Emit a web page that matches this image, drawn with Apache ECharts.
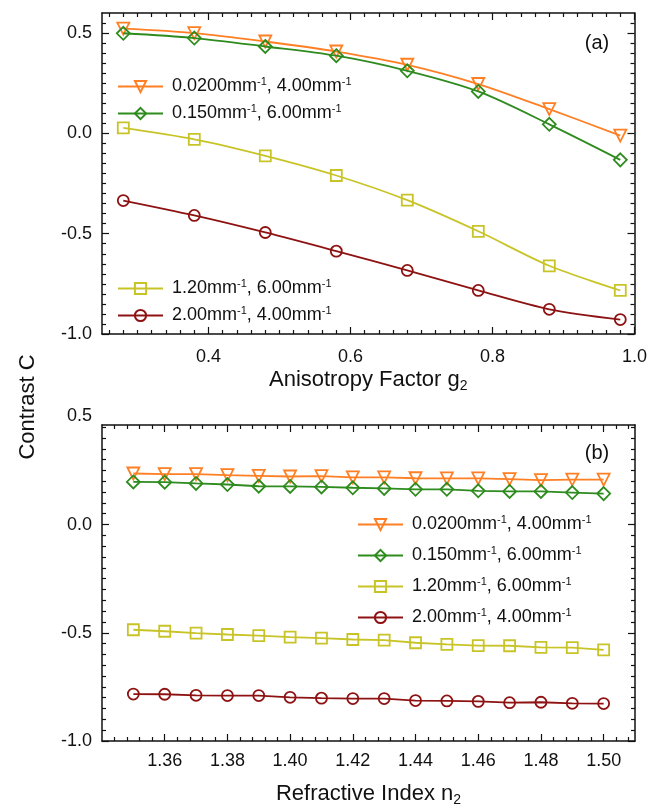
<!DOCTYPE html>
<html>
<head>
<meta charset="utf-8">
<script src="https://cdn.jsdelivr.net/npm/echarts@6/dist/echarts.min.js"></script>
<style>
  html, body { margin: 0; padding: 0; background: #fff; }
  #chart { width: 650px; height: 811px; }
</style>
</head>
<body>
<div id="chart"></div>
<script>
// series names (mu_a, mu_s' pairs)
var names = ['0.0200mm-1, 4.00mm-1', '0.150mm-1, 6.00mm-1', '1.20mm-1, 6.00mm-1', '2.00mm-1, 4.00mm-1']
var colors = ['#FF7F24', '#2E8B1E', '#C8C428', '#8E1212']
var symbols = ['triangle', 'diamond', 'rect', 'circle']
var rotates = [180, 0, 0, 0]

// panel (a): anisotropy factor g2
var gValues = [0.28, 0.38, 0.48, 0.58, 0.68, 0.78, 0.88, 0.98]
var contrastA = [
  [0.522, 0.500, 0.458, 0.408, 0.342, 0.246, 0.121, -0.011],
  [0.499, 0.475, 0.433, 0.387, 0.312, 0.209, 0.045, -0.132],
  [0.027, -0.030, -0.112, -0.210, -0.333, -0.488, -0.660, -0.783],
  [-0.335, -0.409, -0.494, -0.587, -0.683, -0.783, -0.877, -0.928]
]

// panel (b): refractive index n2
var nValues = [1.35, 1.36, 1.37, 1.38, 1.39, 1.40, 1.41, 1.42, 1.43, 1.44, 1.45, 1.46, 1.47, 1.48, 1.49, 1.50]
var contrastB = [
  [0.236, 0.233, 0.233, 0.228, 0.225, 0.222, 0.224, 0.218, 0.218, 0.214, 0.213, 0.213, 0.210, 0.205, 0.208, 0.208],
  [0.197, 0.196, 0.190, 0.185, 0.177, 0.176, 0.174, 0.170, 0.167, 0.163, 0.163, 0.156, 0.153, 0.153, 0.148, 0.143],
  [-0.486, -0.493, -0.502, -0.508, -0.513, -0.520, -0.525, -0.531, -0.534, -0.546, -0.554, -0.559, -0.560, -0.567, -0.569, -0.579],
  [-0.783, -0.784, -0.789, -0.790, -0.790, -0.798, -0.802, -0.804, -0.804, -0.813, -0.815, -0.817, -0.823, -0.821, -0.826, -0.827]
]

// tick labels
var xTicksA = [0.4, 0.6, 0.8, 1.0]
var yTicksA = [-1.0, -0.5, 0.0, 0.5]
var xTicksB = [1.36, 1.38, 1.40, 1.42, 1.44, 1.46, 1.48, 1.50]
var yTicksB = [-1.0, -0.5, 0.0]

var FONT = '"Liberation Sans", Arial, Helvetica, sans-serif'

// minor tick positions between lo and hi every step (skip majors)
function minorTicks(lo, hi, step, majors) {
  var out = []
  var n = Math.round((hi - lo) / step)
  for (var i = 0; i <= n; i++) {
    var v = +(lo + i * step).toFixed(4)
    if (majors.indexOf(v) < 0) out.push(v)
  }
  return out
}

var chart = echarts.init(document.getElementById('chart'))

var grids = [
  { left: 102, top: 13, width: 533, height: 321 },
  { left: 102, top: 425, width: 533, height: 316 }
]

var panels = [
  { xMin: 0.25, xMax: 1.0, yMin: -1.0, yMax: 0.6,
    xMajor: xTicksA, xMinor: minorTicks(0.26, 0.98, 0.02, xTicksA), xDigits: 1,
    yMajor: yTicksA, yMinor: minorTicks(-0.95, 0.55, 0.05, yTicksA),
    xName: 'Anisotropy Factor g{sub|2}', nameGap: 32, labelMargin: 14 },
  { xMin: 1.34, xMax: 1.51, yMin: -1.0, yMax: 0.46,
    xMajor: xTicksB, xMinor: minorTicks(1.344, 1.508, 0.004, xTicksB.concat([1.34])), xDigits: 2,
    yMajor: yTicksB, yMinor: minorTicks(-0.95, 0.45, 0.05, yTicksB),
    xName: 'Refractive Index n{sub|2}', nameGap: 40, labelMargin: 11 }
]

var axisLineStyle = { color: '#111', width: 1.5 }
var xAxes = []
var yAxes = []

panels.forEach(function (p, gi) {
  var sides = [
    { pos: 'bottom', major: true, label: true },
    { pos: 'bottom', major: false },
    { pos: 'top', major: true },
    { pos: 'top', major: false }
  ]
  sides.forEach(function (s) {
    xAxes.push({
      type: 'value', gridIndex: gi, position: s.pos, min: p.xMin, max: p.xMax,
      axisLine: { show: s.major, onZero: false, lineStyle: axisLineStyle },
      axisTick: { show: true, inside: true, length: s.major ? 7 : 4,
        customValues: s.major ? p.xMajor : p.xMinor, lineStyle: { color: '#111', width: 1.2 } },
      axisLabel: s.label ? {
        customValues: p.xMajor, fontSize: 18, fontFamily: FONT, color: '#111', margin: p.labelMargin,
        formatter: function (v) { return v.toFixed(p.xDigits) }
      } : { show: false },
      splitLine: { show: false },
      name: s.label ? p.xName : '',
      nameLocation: 'middle', nameGap: p.nameGap,
      nameTextStyle: { fontSize: 22, fontFamily: FONT, color: '#111', lineHeight: 26,
        rich: { sub: { fontSize: 14, fontFamily: FONT, color: '#111', verticalAlign: 'bottom' } } }
    })
  })
  var ysides = [
    { pos: 'left', major: true, label: true },
    { pos: 'left', major: false },
    { pos: 'right', major: true },
    { pos: 'right', major: false }
  ]
  ysides.forEach(function (s) {
    yAxes.push({
      type: 'value', gridIndex: gi, position: s.pos, min: p.yMin, max: p.yMax,
      axisLine: { show: s.major, onZero: false, lineStyle: axisLineStyle },
      axisTick: { show: true, inside: true, length: s.major ? 7 : 4,
        customValues: s.major ? p.yMajor : p.yMinor, lineStyle: { color: '#111', width: 1.2 } },
      axisLabel: s.label ? {
        customValues: p.yMajor, fontSize: 18, fontFamily: FONT, color: '#111', margin: 10,
        formatter: function (v) { return v.toFixed(1) }
      } : { show: false },
      splitLine: { show: false }
    })
  })
})

var series = []
function addSeries(gi, xs, rows, smooth) {
  rows.forEach(function (vals, k) {
    series.push({
      name: names[k], type: 'line', xAxisIndex: gi * 4, yAxisIndex: gi * 4,
      data: xs.map(function (x, i) { return [x, vals[i]] }),
      smooth: smooth, symbol: symbols[k], symbolRotate: rotates[k],
      symbolSize: k === 1 ? 13 : (k === 0 ? 12 : 11),
      showAllSymbol: true, z: 3 + k,
      lineStyle: { color: colors[k], width: 1.8 },
      itemStyle: { color: 'rgba(255,255,255,0)', borderColor: colors[k], borderWidth: 1.8 },
      emphasis: { disabled: true }, animation: false
    })
  })
}
addSeries(0, gValues, contrastA, 0.3)
addSeries(1, nValues, contrastB, false)

function legendAt(data, left, top, gap) {
  return {
    data: data, left: left, top: top, orient: 'vertical', itemWidth: 45, itemHeight: 14,
    itemGap: gap, selectedMode: false,
    formatter: function (n) { return n.replace(/mm-1/g, 'mm{sup|-1}') },
    textStyle: {
      fontSize: 18, fontFamily: FONT, color: '#111', lineHeight: 21, padding: [0, 0, 0, 4],
      rich: { sup: { fontSize: 11, fontFamily: FONT, color: '#111', verticalAlign: 'top' } }
    }
  }
}

var option = {
  backgroundColor: '#fff',
  animation: false,
  grid: grids,
  xAxis: xAxes,
  yAxis: yAxes,
  legend: [
    legendAt([names[0], names[1]], 112, 71, 6),
    legendAt([names[2], names[3]], 112, 273, 6),
    legendAt(names, 352, 509, 10)
  ],
  series: series,
  graphic: [
    { type: 'text', id: 'ytitle', x: 28, y: 407, rotation: Math.PI / 2,
      style: { text: 'Contrast C', font: '22px ' + FONT, fill: '#111', align: 'center', verticalAlign: 'middle' } },
    { type: 'text', id: 'pa', x: 597, y: 43,
      style: { text: '(a)', font: '20px ' + FONT, fill: '#111', align: 'center', verticalAlign: 'middle' } },
    { type: 'text', id: 'pb', x: 597, y: 453,
      style: { text: '(b)', font: '20px ' + FONT, fill: '#111', align: 'center', verticalAlign: 'middle' } }
  ]
}
chart.setOption(option)

// panel (b) shows its 0.5 label just above the frame
var px = chart.convertToPixel({ xAxisIndex: 4 }, 1.34)
var py = chart.convertToPixel({ yAxisIndex: 4 }, 0.5)
chart.setOption({
  graphic: [{ type: 'text', id: 'b05', x: px - 10, y: py,
    style: { text: (0.5).toFixed(1), font: '18px ' + FONT, fill: '#111', align: 'right', verticalAlign: 'middle' } }]
})
</script>
</body>
</html>
